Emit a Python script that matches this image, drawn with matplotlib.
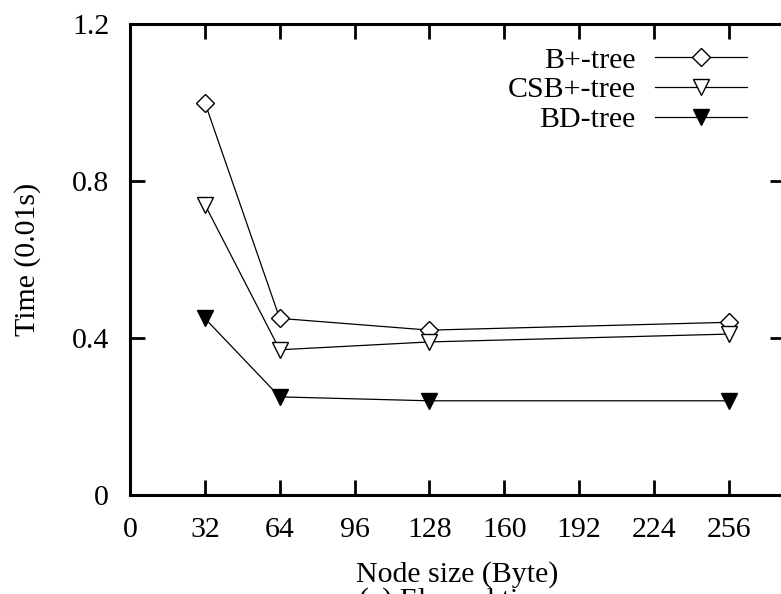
import matplotlib
matplotlib.use("Agg")
import matplotlib.pyplot as plt

node_size = [32, 64, 128, 256]
bplus = [1.00, 0.45, 0.42, 0.44]
csbplus = [0.74, 0.37, 0.39, 0.41]
bdtree = [0.45, 0.25, 0.24, 0.24]
xticks = [0, 32, 64, 96, 128, 160, 192, 224, 256]
yticks = [0, 0.4, 0.8, 1.2]

plt.rcParams['font.family'] = ['Liberation Serif', 'DejaVu Serif']
plt.rcParams['font.size'] = 21.5

fig = plt.figure(figsize=(7.81, 5.94), dpi=100)
W, H = 781, 594
# axes box in pixels: left 130, right ~785 (cut off), top 24, bottom 495
ax = fig.add_axes([130 / W, (H - 495) / H, (785 - 130) / W, (495 - 24) / H])

ax.plot(node_size, bplus, color='black', lw=0.9, marker='D', ms=9,
        mfc='white', mec='black', mew=1.0, label='B+-tree')
ax.plot(node_size, csbplus, color='black', lw=0.9, marker='v', ms=12,
        mfc='white', mec='black', mew=1.0, label='CSB+-tree')
ax.plot(node_size, bdtree, color='black', lw=0.9, marker='v', ms=12,
        mfc='black', mec='black', mew=1.0, label='BD-tree')

ax.set_xlim(0, 280)
ax.set_ylim(0, 1.2)
ax.set_xticks(xticks)
ax.set_xticklabels([str(v) for v in xticks])
ax.set_yticks(yticks)
ax.set_yticklabels(['0', '0.4', '0.8', '1.2'])

for s in ax.spines.values():
    s.set_linewidth(2.2)
ax.tick_params(direction='in', length=11, width=2, top=True, right=True)
ax.tick_params(axis='x', pad=16)
ax.tick_params(axis='y', pad=15)

ax.set_xlabel('Node size (Byte)', labelpad=13)
ax.set_ylabel('Time (0.01s)', labelpad=22.5)

ax.legend(loc='upper right', bbox_to_anchor=(0.97, 0.99), frameon=False,
          markerfirst=False, handlelength=3.1, handletextpad=0.65,
          labelspacing=0.1, borderaxespad=0.2)

fig.text(457 / W, (H - 587) / H, '(a) Elapsed time', ha='center', va='top')

fig.savefig('out.png', dpi=100)
